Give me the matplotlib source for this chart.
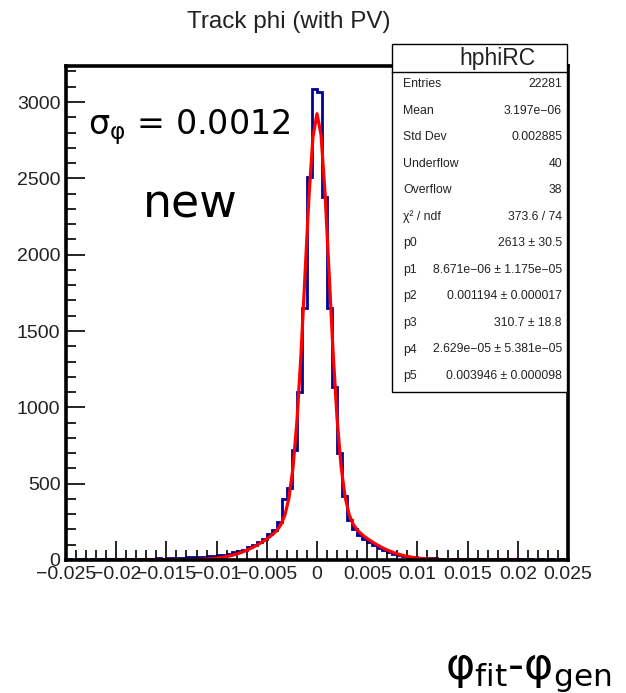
import numpy as np
import matplotlib.pyplot as plt
from matplotlib.patches import Rectangle
from matplotlib.lines import Line2D
from matplotlib.ticker import MultipleLocator

# histogram: 100 bins from -0.025 to 0.025
edges = np.linspace(-0.025, 0.025, 101)
counts = [4, 3, 5, 4, 3, 5, 4, 6, 5, 4,
          6, 5, 7, 6, 8, 7, 9, 8, 10, 9,
          11, 12, 14, 15, 17, 18, 20, 22, 24, 27,
          31, 36, 42, 50, 58, 66, 82, 100, 118, 140,
          168, 198, 250, 400, 470, 720, 1100, 1650, 2510, 3084,
          3064, 2380, 1650, 1135, 700, 420, 265, 205, 165, 140,
          118, 100, 80, 66, 52, 42, 33, 26, 21, 17,
          14, 12, 11, 10, 9, 9, 8, 8, 7, 7,
          8, 6, 7, 6, 5, 6, 5, 5, 4, 5,
          4, 4, 5, 3, 4, 3, 4, 3, 4, 3]

# fit parameters (double gaussian) from stats box
p = [2613, 8.671e-06, 0.001194, 310.7, 2.629e-05, 0.003946]
fit_range = (-0.02, 0.02)

stat_labels = ["Entries", "Mean", "Std Dev", "Underflow", "Overflow", "\u03c7\u00b2 / ndf",
               "p0", "p1", "p2", "p3", "p4", "p5"]
stat_values = ["22281", "3.197e\u221206", "0.002885", "40", "38", "373.6 / 74",
               "2613 \u00b1 30.5", "8.671e\u221206 \u00b1 1.175e\u221205", "0.001194 \u00b1 0.000017",
               "310.7 \u00b1 18.8", "2.629e\u221205 \u00b1 5.381e\u221205", "0.003946 \u00b1 0.000098"]

W, H = 626, 693
fig = plt.figure(figsize=(W / 100, H / 100), dpi=100)
ax = fig.add_axes([66 / W, 1 - 560 / H, 502 / W, 494 / H])

ax.stairs(counts, edges, color='#000099', linewidth=2.0, baseline=None)
xf = np.linspace(fit_range[0], fit_range[1], 101)
yf = p[0] * np.exp(-0.5 * ((xf - p[1]) / p[2]) ** 2) + p[3] * np.exp(-0.5 * ((xf - p[4]) / p[5]) ** 2)
ax.plot(xf, yf, color='red', linewidth=2.3)

ax.set_xlim(-0.025, 0.025)
ax.set_ylim(0, 3236)
ax.xaxis.set_major_locator(MultipleLocator(0.005))
ax.xaxis.set_minor_locator(MultipleLocator(0.001))
ax.yaxis.set_major_locator(MultipleLocator(500))
ax.yaxis.set_minor_locator(MultipleLocator(100))
ax.tick_params(which='both', direction='in', top=False, right=False, width=1.2)
ax.tick_params(which='major', axis='x', length=14, pad=4)
ax.tick_params(which='minor', axis='x', length=7)
ax.tick_params(which='major', axis='y', length=14, pad=4)
ax.tick_params(which='minor', axis='y', length=7)
xt = np.arange(-0.025, 0.0251, 0.005)
ax.set_xticks(xt)
ax.set_xticklabels(['\u22120.025', '\u22120.02', '\u22120.015', '\u22120.01', '\u22120.005', '0',
                    '0.005', '0.01', '0.015', '0.02', '0.025'])
for lab in ax.get_xticklabels() + ax.get_yticklabels():
    lab.set_fontfamily('Liberation Sans')
    lab.set_fontsize(14)
    lab.set_color('#222222')
for s in ax.spines.values():
    s.set_linewidth(2.6)

fig.text(289 / W, 1 - 22 / H, "Track phi (with PV)", ha='center', va='center',
         fontsize=17.5, family='Liberation Sans', color='#222222')

# annotations
fig.text(88 / W, 1 - 127 / H, r'$\mathregular{\sigma_{\varphi}}$ = 0.0012', ha='left', va='center',
         fontsize=24, family='DejaVu Sans')
fig.text(190 / W, 1 - 205 / H, "new", ha='center', va='center', fontsize=33, family='DejaVu Sans')
fig.text(612 / W, 1 - 672 / H, r'$\mathregular{\varphi_{fit}}$-$\mathregular{\varphi_{gen}}$',
         ha='right', va='center', fontsize=32, family='DejaVu Sans')

# stats box
bx0, bx1, by0, by1 = 392, 567, 44, 392
fig.patches.append(Rectangle((bx0 / W, 1 - by1 / H), (bx1 - bx0) / W, (by1 - by0) / H,
                             transform=fig.transFigure, facecolor='white', edgecolor='black',
                             linewidth=1.0, zorder=5))
fig.lines.append(Line2D([bx0 / W, bx1 / W], [1 - 72 / H, 1 - 72 / H], transform=fig.transFigure,
                        color='black', linewidth=1.0, zorder=6))
fig.text(497 / W, 1 - 58 / H, "hphiRC", ha='center', va='center', fontsize=16.5,
         family='Liberation Sans', color='#222222', zorder=7)
for k, (lab, val) in enumerate(zip(stat_labels, stat_values)):
    y = 1 - (84 + 26.55 * k) / H
    fig.text(403 / W, y, lab, ha='left', va='center', fontsize=8.8, family='Liberation Sans',
             color='#222222', zorder=7)
    fig.text(562 / W, y, val, ha='right', va='center', fontsize=8.8, family='Liberation Sans',
             color='#222222', zorder=7)

fig.savefig('out.png', dpi=100)
